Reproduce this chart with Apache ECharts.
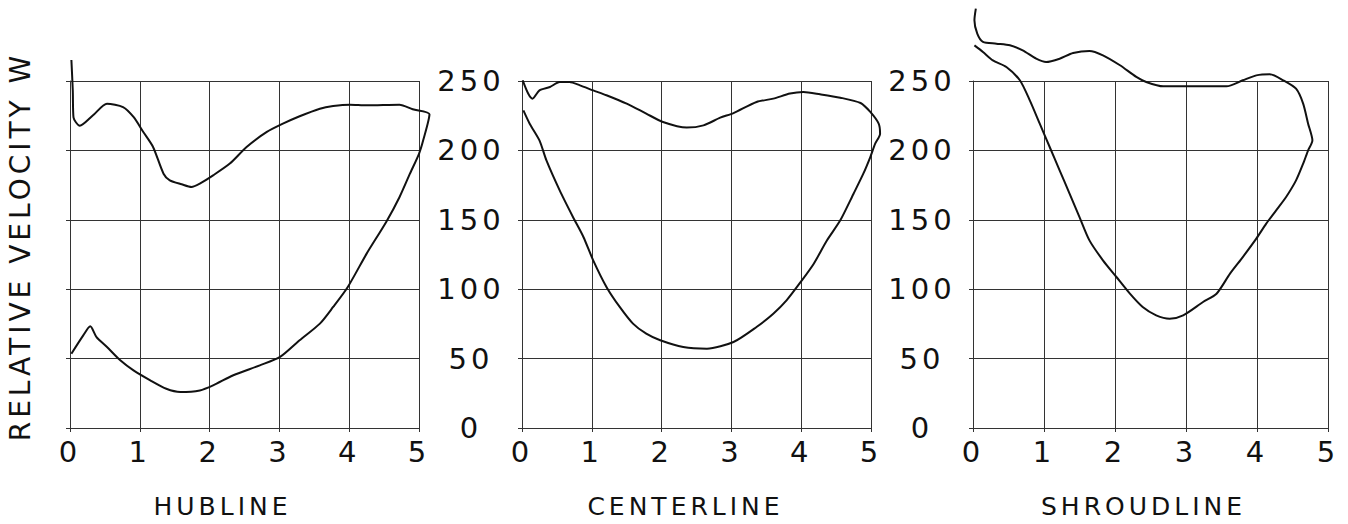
<!DOCTYPE html>
<html>
<head>
<meta charset="utf-8">
<script src="https://cdn.jsdelivr.net/npm/echarts@6/dist/echarts.min.js"></script>
<style>
  html, body { margin: 0; padding: 0; background: #fff; }
  #chart { width: 1348px; height: 524px; letter-spacing: 4px; }
  #chart svg text { letter-spacing: 4px; }
</style>
</head>
<body>
<div id="chart"></div>
<script>
// ---- data ----
const panelTitles = ['HUBLINE', 'CENTERLINE', 'SHROUDLINE'];
const yAxisTitle = 'RELATIVE VELOCITY W';
const xTicks = [0, 1, 2, 3, 4, 5];
const yTicks = [0, 50, 100, 150, 200, 250];

const hubX = [0.02,0.04,0.05,0.14,0.33,0.53,0.76,0.91,1.05,1.19,1.34,1.43,1.60,1.74,1.86,2.05,2.29,2.53,2.82,3.05,3.29,3.58,3.77,4.01,4.25,4.72,4.91,5.15,5.06,5.00,4.87,4.72,4.53,4.25,3.98,3.77,3.58,3.29,3.01,2.72,2.34,2.05,1.86,1.58,1.38,1.15,0.91,0.72,0.53,0.38,0.29,0.19,0.02];
const hubW = [265,243,224,218,225.5,233.8,231.4,224.3,213.6,202.9,183.8,179,176.2,174.3,176.7,182.6,191,202.9,213.6,219.5,224.8,230.2,232.1,233.1,232.6,233.1,229.8,226.2,207.6,198,183.8,167,149.3,126.7,102.9,88.6,76.7,64.8,52.9,46.9,39.8,32.6,29,27.9,30.2,36.2,43.3,50.5,60,67.1,74.8,68.3,55.2];

const centerX = [0.01,0.09,0.15,0.25,0.40,0.54,0.68,0.83,1.02,1.21,1.50,1.78,2.02,2.36,2.60,2.84,3.03,3.36,3.60,3.84,4.03,4.27,4.56,4.85,4.99,5.11,5.13,5.06,4.99,4.89,4.75,4.56,4.37,4.18,4.01,3.79,3.60,3.36,3.03,2.65,2.31,1.98,1.78,1.59,1.40,1.21,1.02,0.88,0.73,0.54,0.35,0.25,0.11,0.02];
const centerW = [250.5,240.9,237.4,243.3,245.7,249.3,249.3,246.9,243.3,239.8,233.8,226.7,220.7,216.7,218.3,223.8,227.1,235,237.4,241,242.1,240.5,238.1,234.3,227.9,219.5,212.4,205.2,195.7,183.8,169.5,150.5,136.2,119.5,107.6,93.3,83.8,74.3,63.6,58.8,60,64.8,69.5,76.7,88.6,102.9,121.9,138.6,152.9,171.9,193.3,207.6,219.5,229];

const shroudX = [0.04,0.02,0.06,0.14,0.33,0.52,0.70,0.89,1.03,1.22,1.41,1.64,1.83,2.07,2.30,2.44,2.68,2.96,3.29,3.57,3.80,3.99,4.18,4.37,4.55,4.65,4.72,4.78,4.72,4.65,4.55,4.41,4.27,4.13,3.99,3.80,3.62,3.43,3.24,2.96,2.77,2.58,2.39,2.21,2.02,1.83,1.64,1.50,1.36,1.22,1.08,0.94,0.80,0.66,0.47,0.28,0.14,0.02];
const shroudW = [301.5,293.2,283.7,277.8,276.6,275.4,271.8,265.9,263.5,265.9,269.9,271.4,268.3,261.2,252.9,249.3,246.2,246.2,246.2,246.2,250.5,254,254.8,250.5,244.5,233.9,219.6,207.7,200.6,191.1,179.2,167.4,157.9,148.4,137.7,124.6,112.8,98.5,92.6,83.1,80.7,83.1,89,98.5,110.4,122.3,136.5,153.1,169.8,186.4,203,219.6,236.2,250.5,260,264.7,270.7,275.4];

// ---- chart ----
const FONT = '"DejaVu Sans", "Liberation Sans", sans-serif';
const INK = '#111';
const GRIDC = '#333';
const NUMSIZE = 29;
const panels = [
  { x: hubX, w: hubW },
  { x: centerX, w: centerW },
  { x: shroudX, w: shroudW }
];
const frames = [
  { left: 70, top: 81, width: 349, height: 350 },
  { left: 522, top: 81, width: 349, height: 350 },
  { left: 973, top: 81, width: 355, height: 351 }
];
const titleShift = [44, 22, 14];
const xMax = xTicks[xTicks.length - 1];
const overMax = 5.2; // slightly wider hidden scale so curves may pass the right border unclamped

// visible frames (0..2) + overlay grids for the curves (3..5), same pixel scale
const grids = frames.concat(frames.map(f => ({
  left: f.left, top: f.top, height: f.height, width: f.width * overMax / xMax
})));

const xAxes = frames.map((g, i) => ({
  type: 'value', gridIndex: i,
  min: xTicks[0], max: xMax, interval: xTicks[1] - xTicks[0],
  name: panelTitles[i], nameLocation: 'middle', nameGap: 66,
  nameTextStyle: { fontFamily: FONT, fontSize: 25, color: INK, padding: [0, titleShift[i], 0, 0] },
  axisLine: { show: true, lineStyle: { color: GRIDC, width: 1 } },
  axisTick: { show: true, length: 4, lineStyle: { color: GRIDC, width: 1 } },
  axisLabel: { show: true, margin: 9, fontFamily: FONT, fontSize: NUMSIZE, color: INK },
  splitLine: { show: true, lineStyle: { color: GRIDC, width: 1 } }
})).concat(frames.map((g, i) => ({
  type: 'value', gridIndex: i + 3, min: 0, max: overMax, show: false
})));

const yAxes = frames.map((g, i) => ({
  type: 'value', gridIndex: i,
  min: yTicks[0], max: yTicks[yTicks.length - 1], interval: yTicks[1] - yTicks[0],
  name: i === 0 ? yAxisTitle : '', nameLocation: 'middle', nameGap: 36,
  nameTextStyle: { fontFamily: FONT, fontSize: 28, color: INK, padding: [0, 0, 0, 16] },
  axisLine: { show: true, lineStyle: { color: GRIDC, width: 1 } },
  axisTick: { show: true, length: 4, lineStyle: { color: GRIDC, width: 1 } },
  axisLabel: { show: i !== 0, margin: 51, align: 'center', fontFamily: FONT, fontSize: NUMSIZE, color: INK },
  splitLine: { show: true, lineStyle: { color: GRIDC, width: 1 } }
})).concat(frames.map((g, i) => ({
  type: 'value', gridIndex: i + 3,
  min: yTicks[0], max: yTicks[yTicks.length - 1], show: false
})));

const series = panels.map((p, i) => ({
  type: 'line', xAxisIndex: i + 3, yAxisIndex: i + 3,
  data: p.x.map((x, k) => [x, p.w[k]]),
  showSymbol: false, symbol: 'none', smooth: 0.25, clip: false,
  lineStyle: { color: INK, width: 2 },
  animation: false
}));

const chart = echarts.init(document.getElementById('chart'), null, { renderer: 'svg' });
chart.setOption({
  backgroundColor: '#fff',
  animation: false,
  grid: grids,
  xAxis: xAxes,
  yAxis: yAxes,
  series: series
});
</script>
</body>
</html>
